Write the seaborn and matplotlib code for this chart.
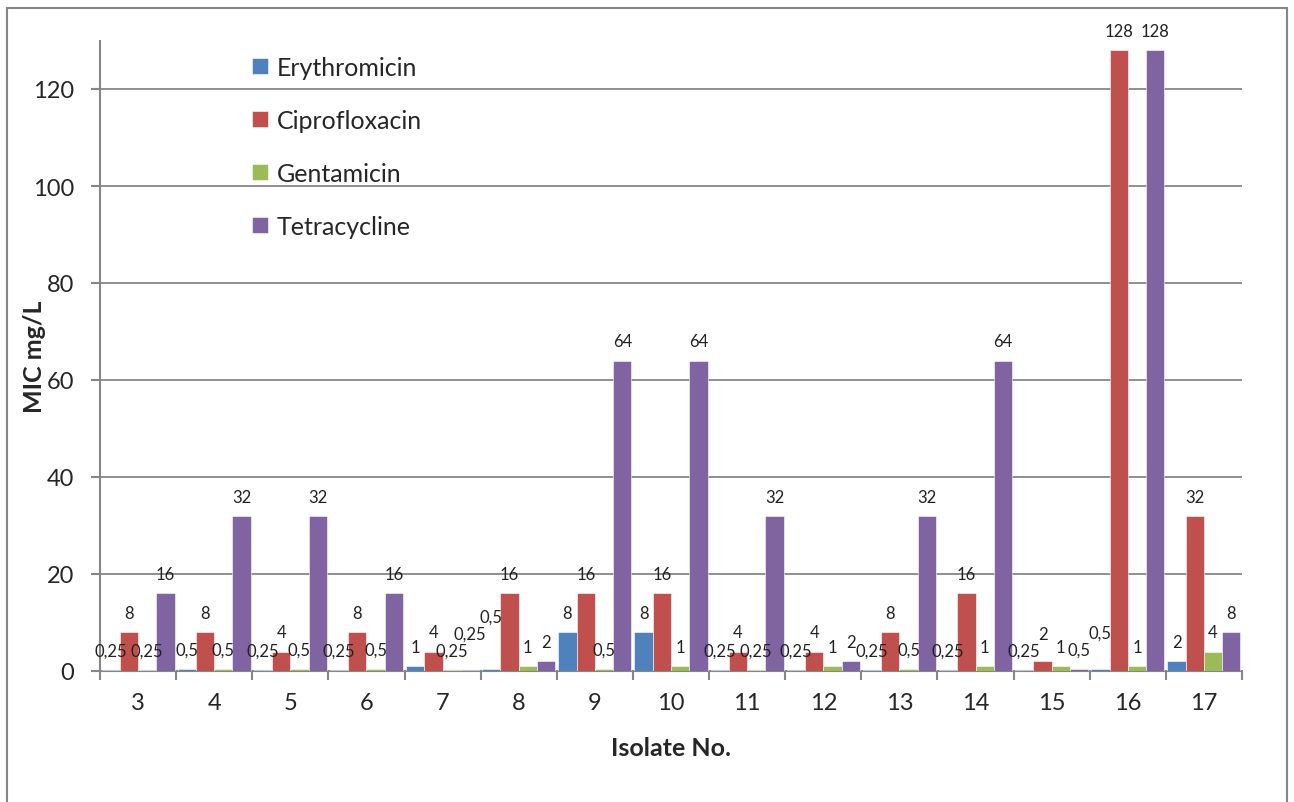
import matplotlib
matplotlib.use("Agg")
import matplotlib.pyplot as plt
import seaborn as sns
import pandas as pd
from matplotlib.patches import Rectangle

isolates = ["3", "4", "5", "6", "7", "8", "9", "10", "11", "12", "13", "14", "15", "16", "17"]
erythromicin = [0.25, 0.5, 0.25, 0.25, 1, 0.5, 8, 8, 0.25, 0.25, 0.25, 0.25, 0.25, 0.5, 2]
ciprofloxacin = [8, 8, 4, 8, 4, 16, 16, 16, 4, 4, 8, 16, 2, 128, 32]
gentamicin = [0.25, 0.5, 0.5, 0.5, 0.25, 1, 0.5, 1, 0.25, 1, 0.5, 1, 1, 1, 4]
tetracycline = [16, 32, 32, 16, 0.25, 2, 64, 64, 32, 2, 32, 64, 0.5, 128, 8]
series_names = ["Erythromicin", "Ciprofloxacin", "Gentamicin", "Tetracycline"]
colors = ["#4F81BD", "#C0504D", "#9BBB59", "#8064A2"]

rows = []
for name, vals in zip(series_names, [erythromicin, ciprofloxacin, gentamicin, tetracycline]):
    for iso, v in zip(isolates, vals):
        rows.append({"Isolate": iso, "Antibiotic": name, "MIC": v})
df = pd.DataFrame(rows)

sns.set_theme(style="white")
plt.rcParams["font.family"] = ["Lato", "DejaVu Sans"]

W, H = 1294, 803
fig = plt.figure(figsize=(W / 100, H / 100), dpi=100)
ax = fig.add_axes([100 / W, 1 - 672 / H, (1242 - 100) / W, (672 - 41.5) / H])

sns.barplot(data=df, x="Isolate", y="MIC", hue="Antibiotic", order=isolates,
            hue_order=series_names, palette=colors, width=0.96, gap=0,
            edgecolor="white", linewidth=0.4, saturation=1, ax=ax, zorder=3)

ax.set_ylim(0, 130)
ax.set_xlim(-0.5, len(isolates) - 0.5)
ax.set_yticks(range(0, 121, 20))
ax.yaxis.grid(True, color="#868686", linewidth=1.3)
ax.set_axisbelow(True)
for s in ["top", "right"]:
    ax.spines[s].set_visible(False)
for s in ["left", "bottom"]:
    ax.spines[s].set_color("#868686")
    ax.spines[s].set_linewidth(1.5)
ax.tick_params(axis="y", length=6.5, width=1.5, color="#868686", labelsize=17, pad=12, left=True)
ax.tick_params(axis="x", which="major", length=0, labelsize=17, pad=15)
ax.set_xticks([i + 0.5 for i in range(-1, len(isolates))], minor=True)
ax.tick_params(axis="x", which="minor", length=6.5, width=1.5, color="#868686", bottom=True)
ax.set_xlabel("Isolate No.", fontsize=18, fontweight="bold")
ax.set_ylabel("MIC mg/L", fontsize=18, fontweight="bold")
ax.xaxis.set_label_coords(0.5, -(737 - 672) / (672 - 41.5))
ax.yaxis.set_label_coords(-(100 - 46) / (1242 - 100), 0.5)

# data labels
labels = []
for cont in ax.containers:
    ls = ax.bar_label(cont, labels=[f"{b.get_height():g}".replace(".", ",") for b in cont],
                      padding=8, fontsize=12, color="#222222")
    labels.append(list(ls))

# simple overlap avoidance: shift up labels colliding with earlier ones
fig.canvas.draw()
r = fig.canvas.get_renderer()
placed = []
n = len(isolates)
for i in range(n):
    for k in range(len(labels)):
        t = labels[k][i]
        bb = t.get_window_extent(r)
        moved = True
        while moved:
            moved = False
            for pb in placed:
                if bb.x1 > pb.x0 + 1 and bb.x0 < pb.x1 - 1 and bb.y1 > pb.y0 and bb.y0 < pb.y1:
                    dy = pb.y1 - bb.y0 + 1
                    t.xyann = (t.xyann[0], t.xyann[1] + dy * 72 / fig.dpi)
                    bb = t.get_window_extent(r)
                    moved = True
        placed.append(bb)

leg = ax.legend(loc="upper left", bbox_to_anchor=(252 / W, 1 - 57 / H),
                bbox_transform=fig.transFigure, frameon=False, fontsize=18,
                handlelength=0.64, handleheight=0.64, labelspacing=1.2,
                handletextpad=0.35, borderpad=0, borderaxespad=0)

fig.patches.append(Rectangle((7 / W, -0.05), (1287 - 7) / W, 1.05 - 9 / H,
                             transform=fig.transFigure, fill=False,
                             edgecolor="#868686", linewidth=1.5))

fig.savefig("out.png", dpi=100)
